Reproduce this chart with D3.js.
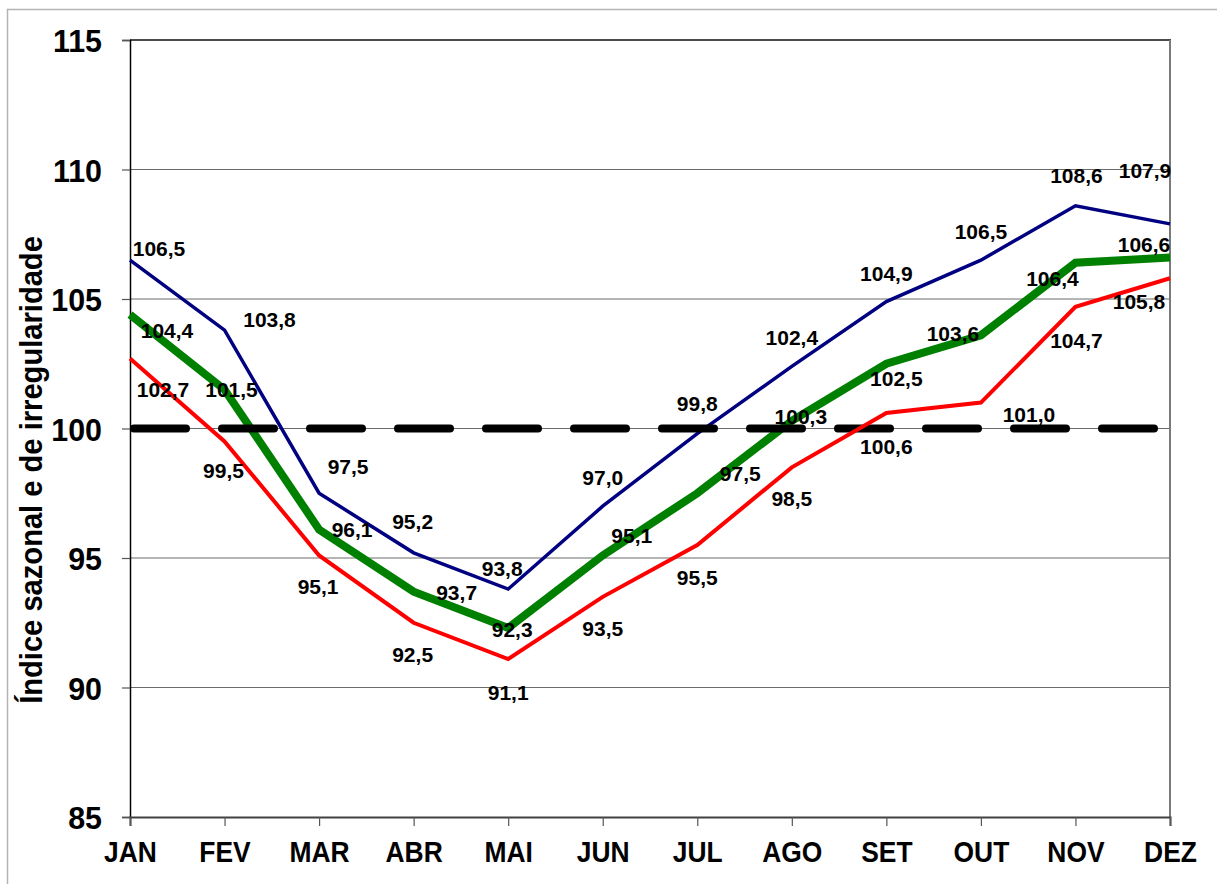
<!DOCTYPE html>
<html>
<head>
<meta charset="utf-8">
<script src="https://cdn.jsdelivr.net/npm/d3@7"></script>
<style>
  html, body { margin: 0; padding: 0; background: #fff; }
  svg { display: block; font-family: "Liberation Sans", Arial, Helvetica, sans-serif; }
</style>
</head>
<body>
<svg id="chart" width="1217" height="884"></svg>
<script>
// Monthly seasonal/irregular index, three series plus the 100 baseline
const months = ["JAN", "FEV", "MAR", "ABR", "MAI", "JUN", "JUL", "AGO", "SET", "OUT", "NOV", "DEZ"];
const serieAlta  = [106.5, 103.8, 97.5, 95.2, 93.8, 97.0, 99.8, 102.4, 104.9, 106.5, 108.6, 107.9];
const serieMedia = [104.4, 101.5, 96.1, 93.7, 92.3, 95.1, 97.5, 100.3, 102.5, 103.6, 106.4, 106.6];
const serieBaixa = [102.7, 99.5, 95.1, 92.5, 91.1, 93.5, 95.5, 98.5, 100.6, 101.0, 104.7, 105.8];
const baseline = 100;
const yTicks = [85, 90, 95, 100, 105, 110, 115];
const yTitle = "Índice sazonal e de irregularidade";

// Label placement nudges (pixels from each point to the label centre)
const nudgeAlta = [[29,-12],[45,-11],[29,-27],[-1,-31],[-6,-21],[0,-29],[0,-30],[0,-29],[0,-28],[0,-29],[1,-30],[-25,-53]];
const nudgeMedia = [[37,16],[7,0],[33,0],[43,1],[4,2],[29,-20],[43,-20],[9,-4],[10,15],[-28,-2],[-23,16],[-26,-13]];
const nudgeBaixa = [[33,31],[-1,29],[-1,31],[-1,32],[0,33],[0,32],[0,32],[0,31],[0,33],[48,12],[1,34],[-31,23]];

const svg = d3.select("#chart");
const plotL = 130, plotR = 1170, plotT = 40, plotB = 817;

const x = d3.scalePoint().domain(months).range([plotL, plotR]);
const y = d3.scaleLinear().domain([85, 115]).range([plotB, plotT]);

// squeeze text horizontally to mimic a slightly condensed bold face
function condense(sel, factor) {
  sel.each(function () {
    const w = this.getComputedTextLength();
    d3.select(this).attr("textLength", w * factor).attr("lengthAdjust", "spacingAndGlyphs");
  });
}

// outer frame
svg.append("rect")
  .attr("x", 7.5).attr("y", 9.5).attr("width", 1300).attr("height", 1000)
  .attr("fill", "none").attr("stroke", "#b4b4b4").attr("stroke-width", 1.5);

// horizontal gridlines
svg.append("g").selectAll("line")
  .data(yTicks.filter(t => t > 85 && t < 115))
  .join("line")
  .attr("x1", plotL).attr("x2", plotR)
  .attr("y1", d => y(d)).attr("y2", d => y(d))
  .attr("stroke", "#6a6a6a").attr("stroke-width", 1);

// top edge
svg.append("line")
  .attr("x1", plotL).attr("x2", plotR + 1).attr("y1", y(115)).attr("y2", y(115))
  .attr("stroke", "#111").attr("stroke-width", 1.5);
// right edge
svg.append("line")
  .attr("x1", plotR).attr("x2", plotR).attr("y1", y(115)).attr("y2", plotB)
  .attr("stroke", "#7a7a7a").attr("stroke-width", 2);

// y axis
const yAxis = svg.append("g")
  .attr("transform", `translate(${plotL},0)`)
  .call(d3.axisLeft(y).tickValues(yTicks).tickSize(8).tickPadding(20).tickFormat(d3.format("d")));
yAxis.select(".domain").attr("stroke", "#000").attr("stroke-width", 1.5);
yAxis.selectAll(".tick line").attr("stroke", "#555").attr("stroke-width", 1.2);
yAxis.selectAll(".tick text")
  .attr("font-family", "Liberation Sans, Arial, sans-serif")
  .attr("font-size", 32).attr("font-weight", "bold").attr("fill", "#000")
  .attr("dy", "0.36em")
  .call(condense, 0.95);

// x axis
const xAxis = svg.append("g")
  .attr("transform", `translate(0,${plotB})`)
  .call(d3.axisBottom(x).tickSize(9).tickPadding(15));
xAxis.select(".domain").attr("stroke", "#404040").attr("stroke-width", 2);
xAxis.selectAll(".tick line").attr("stroke", "#555").attr("stroke-width", 1.2);
xAxis.selectAll(".tick text")
  .attr("font-family", "Liberation Sans, Arial, sans-serif")
  .attr("font-size", 30).attr("font-weight", "bold").attr("fill", "#000")
  .attr("dy", "0.71em")
  .call(condense, 0.88);

// y axis title
svg.append("text")
  .attr("transform", `translate(42,470) rotate(-90)`)
  .attr("text-anchor", "middle")
  .attr("font-size", 32).attr("font-weight", "bold").attr("fill", "#000")
  .text(yTitle)
  .call(condense, 0.91);

const line = d3.line().x((d, i) => x(months[i])).y(d => y(d));

function drawSeries(values, color, width) {
  svg.append("path")
    .datum(values)
    .attr("d", line)
    .attr("fill", "none")
    .attr("stroke", color)
    .attr("stroke-width", width)
    .attr("stroke-linejoin", "miter");
}

drawSeries(serieAlta, "#000080", 3.5);
drawSeries(serieMedia, "#008000", 8);

// dashed baseline at 100
svg.append("line")
  .attr("x1", plotL + 4).attr("x2", plotR)
  .attr("y1", y(baseline)).attr("y2", y(baseline))
  .attr("stroke", "#000").attr("stroke-width", 8)
  .attr("stroke-dasharray", "52,36").attr("stroke-linecap", "round");

drawSeries(serieBaixa, "#ff0000", 4);

// value labels
const fmt = v => v.toFixed(1).replace(".", ",");
function drawLabels(values, nudges) {
  svg.append("g").selectAll("text")
    .data(values)
    .join("text")
    .attr("x", (d, i) => x(months[i]) + nudges[i][0])
    .attr("y", (d, i) => y(d) + nudges[i][1])
    .attr("dy", "0.36em")
    .attr("text-anchor", "middle")
    .attr("font-size", 21).attr("font-weight", "bold").attr("fill", "#000")
    .text(fmt);
}
drawLabels(serieAlta, nudgeAlta);
drawLabels(serieMedia, nudgeMedia);
drawLabels(serieBaixa, nudgeBaixa);
</script>
</body>
</html>
